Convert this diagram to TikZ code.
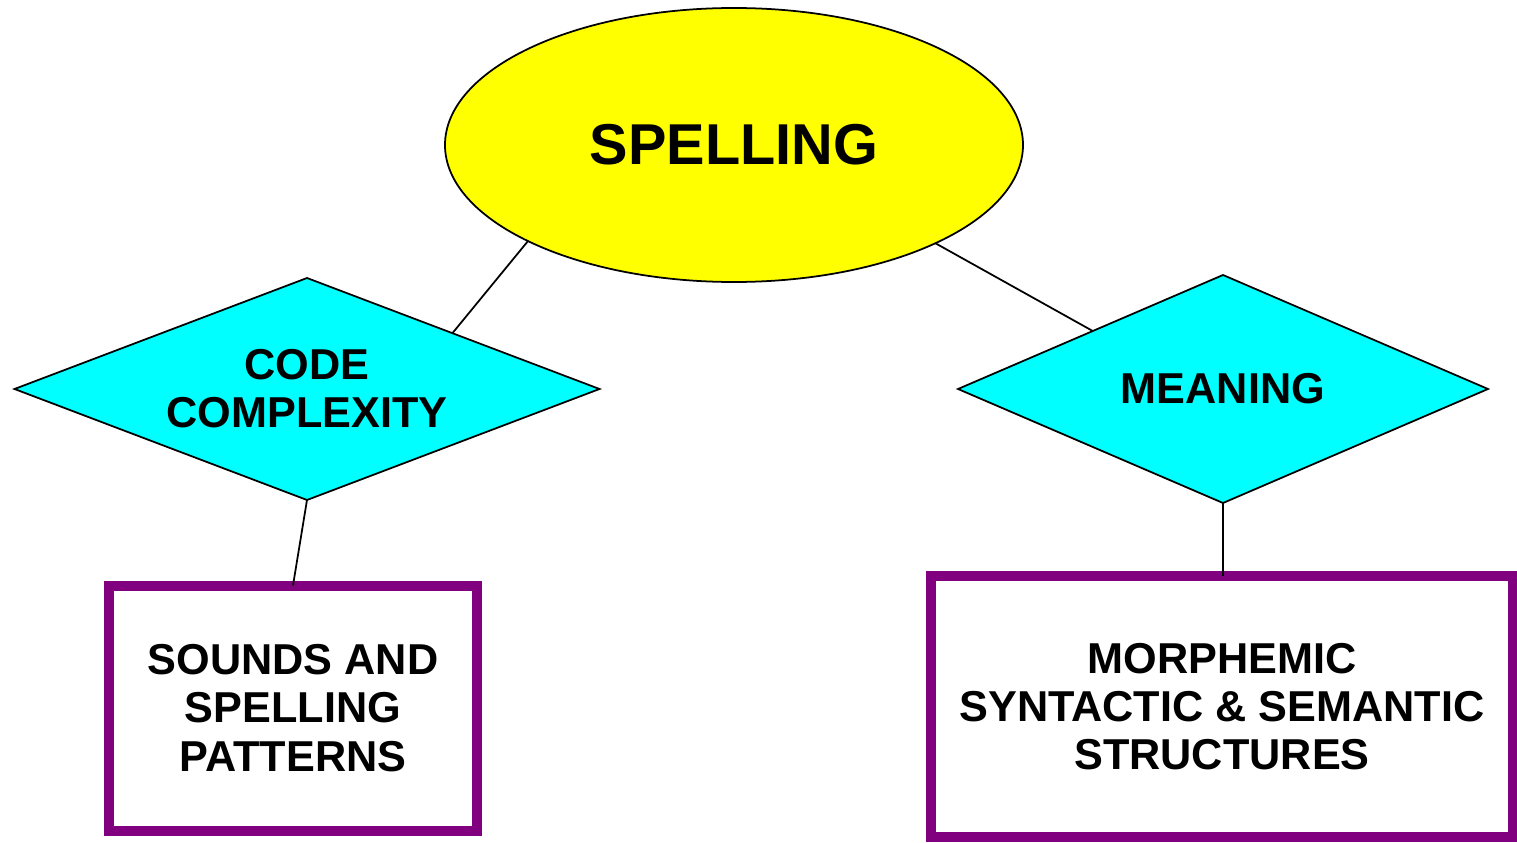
\documentclass[tikz,border=0pt]{standalone}
\usepackage{fontspec}
\setmainfont{Liberation Sans}
\usepackage{xcolor}
\usetikzlibrary{shapes.geometric}

\definecolor{boxpurple}{RGB}{128,0,128}
\definecolor{topicyellow}{RGB}{255,255,0}
\definecolor{facetcyan}{RGB}{0,255,255}

\begin{document}
\begin{tikzpicture}[
    topic/.style={ellipse, draw=black, fill=topicyellow, line width=0.5pt, inner sep=0pt, outer sep=0pt, minimum width=5.78cm, minimum height=2.74cm, font=\fontsize{16.4}{19}\selectfont\bfseries},
    facet/.style={diamond, draw=black, fill=facetcyan, line width=0.5pt, inner sep=0pt, outer sep=0pt, aspect=2.6, align=center, font=\fontsize{12.3}{13.7}\selectfont\bfseries},
    detail/.style={rectangle, draw=boxpurple, line width=0.1cm, fill=white, inner sep=0pt, outer sep=0pt, align=center, font=\fontsize{12.3}{13.7}\selectfont\bfseries},
    link/.style={draw=black, line width=0.5pt}
]
\useasboundingbox (0,0) rectangle (15.17,8.42);

% Main topic
\node[topic] (spell) at (7.34,6.97) {SPELLING};

% Two facets
\node[facet, minimum width=5.85cm, minimum height=2.22cm] (code) at (3.07,4.53) {CODE\\COMPLEXITY};
\node[facet, minimum width=5.30cm, minimum height=2.28cm] (meaning) at (12.23,4.53) {MEANING};

% Details below
\node[detail, minimum width=3.67cm, minimum height=2.45cm] (sounds) at (2.93,1.34) {SOUNDS AND\\SPELLING\\PATTERNS};
\node[detail, minimum width=5.82cm, minimum height=2.61cm] (morph) at (12.22,1.355) {MORPHEMIC\\SYNTACTIC \& SEMANTIC\\STRUCTURES};

% Connecting lines
\draw[link] (spell.205) -- (code.21);
\draw[link] (spell.334.6) -- (meaning.156.4);
\draw[link] (code.south) -- (sounds.north);
\draw[link] (meaning.south) -- (meaning.south |- morph.north);

\end{tikzpicture}
\end{document}
